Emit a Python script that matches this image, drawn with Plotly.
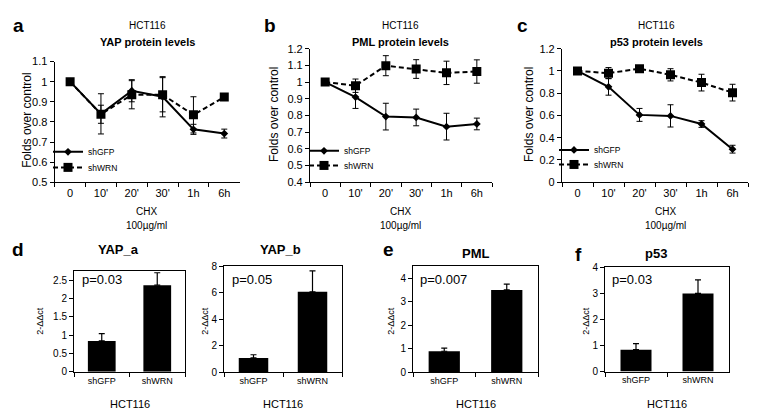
import plotly.graph_objects as go

W, H = 757, 410
FONT = "Liberation Sans, Arial, sans-serif"

# ---------------- data ----------------
time_points = ["0", "10'", "20'", "30'", "1h", "6h"]
series_names = ["shGFP", "shWRN"]

yap_gfp = [1.0, 0.84, 0.955, 0.925, 0.763, 0.742]
yap_gfp_err = [0, 0.10, 0.055, 0.10, 0.025, 0.022]
yap_wrn = [1.0, 0.838, 0.935, 0.935, 0.835, 0.924]
yap_wrn_err = [0, 0.045, 0.07, 0.085, 0.09, 0.0]

pml_gfp = [1.0, 0.91, 0.793, 0.788, 0.733, 0.749]
pml_gfp_err = [0, 0.068, 0.08, 0.05, 0.08, 0.035]
pml_wrn = [1.0, 0.978, 1.098, 1.078, 1.055, 1.063]
pml_wrn_err = [0, 0.04, 0.06, 0.056, 0.07, 0.07]

p53_gfp = [1.0, 0.857, 0.605, 0.596, 0.523, 0.297]
p53_gfp_err = [0, 0.075, 0.058, 0.10, 0.03, 0.035]
p53_wrn = [1.0, 0.98, 1.02, 0.965, 0.895, 0.805]
p53_wrn_err = [0, 0.05, 0.02, 0.055, 0.075, 0.075]

groups = ["shGFP", "shWRN"]
yapa_vals = [0.84, 2.36]
yapa_err = [0.20, 0.34]
yapb_vals = [1.08, 6.08]
yapb_err = [0.24, 1.58]
pml_vals = [0.90, 3.50]
pml_err = [0.13, 0.25]
p53_vals = [0.84, 3.00]
p53_err = [0.23, 0.52]

line_titles = ["YAP protein levels", "PML protein levels", "p53 protein levels"]
bar_titles = ["YAP_a", "YAP_b", "PML", "p53"]
p_values = ["p=0.03", "p=0.05", "p=0.007", "p=0.03"]


def px(x):
    return x / W


def py(y):
    return 1 - y / H


fig = go.Figure()

line_sets = [
    (yap_gfp, yap_gfp_err, yap_wrn, yap_wrn_err),
    (pml_gfp, pml_gfp_err, pml_wrn, pml_wrn_err),
    (p53_gfp, p53_gfp_err, p53_wrn, p53_wrn_err),
]
for i, (g, ge, w, we) in enumerate(line_sets):
    ax = "" if i == 0 else str(i + 1)
    lg1 = "legend" if i == 0 else "legend%d" % (2 * i + 1)
    lg2 = "legend%d" % (2 * i + 2)
    fig.add_trace(go.Scatter(
        x=time_points, y=g, name=series_names[0], mode="lines+markers",
        line=dict(color="black", width=2),
        marker=dict(symbol="diamond", size=6, color="black"),
        error_y=dict(type="data", array=ge, color="black", thickness=1, width=3),
        xaxis="x" + ax, yaxis="y" + ax, legend=lg1))
    fig.add_trace(go.Scatter(
        x=time_points, y=w, name=series_names[1], mode="lines+markers",
        line=dict(color="black", width=2, dash="5px,3px"),
        marker=dict(symbol="square", size=9, color="black"),
        error_y=dict(type="data", array=we, color="black", thickness=1, width=3),
        xaxis="x" + ax, yaxis="y" + ax, legend=lg2))

bar_sets = [(yapa_vals, yapa_err), (yapb_vals, yapb_err), (pml_vals, pml_err), (p53_vals, p53_err)]
for j, (v, e) in enumerate(bar_sets):
    ax = str(j + 4)
    fig.add_trace(go.Bar(
        x=groups, y=v, marker=dict(color="black", line=dict(width=0)),
        error_y=dict(type="data", symmetric=False, array=e, arrayminus=[0] * len(e),
                     color="black", thickness=1.2, width=3),
        xaxis="x" + ax, yaxis="y" + ax, showlegend=False, width=0.5))

# ---------------- axes ----------------
line_dom_x = [(46.7, 231.7), (302, 484), (554, 740)]
line_dom_y = [(49, 173.3), (35.7, 173.3), (35.7, 173.3)]
line_ranges = [(0.5, 1.1), (0.4, 1.2), (0, 1.2)]
line_dticks = [0.1, 0.1, 0.2]

layout = dict(
    width=W, height=H, margin=dict(l=0, r=0, t=0, b=0),
    paper_bgcolor="white", plot_bgcolor="white",
    font=dict(family=FONT, color="black", size=11),
    bargap=0.5,
)

for i in range(3):
    ax = "" if i == 0 else str(i + 1)
    layout["xaxis" + ax] = dict(
        domain=[px(line_dom_x[i][0]), px(line_dom_x[i][1])],
        anchor="y" + ax, type="category", range=[-0.5, 5.5],
        showline=True, linecolor="black", linewidth=1.2,
        ticks="outside", tickson="boundaries", ticklen=4, tickcolor="black",
        tickfont=dict(size=11), showgrid=False, zeroline=False)
    layout["yaxis" + ax] = dict(
        domain=[py(line_dom_y[i][1]), py(line_dom_y[i][0])],
        anchor="x" + ax, range=list(line_ranges[i]), dtick=line_dticks[i],
        showline=True, linecolor="black", linewidth=1.2,
        ticks="outside", ticklen=4, tickcolor="black",
        tickfont=dict(size=11), showgrid=False, zeroline=False)

bar_dom_x = [(66, 177), (216, 334), (405, 530), (597, 721)]
bar_dom_y = [(264.3, 368.5), (260, 369), (260, 369.3), (261, 368.3)]
bar_ranges = [(0, 2.76), (0, 8), (0, 4.5), (0, 4)]
bar_dticks = [0.5, 2, 1, 1]
for j in range(4):
    ax = str(j + 4)
    layout["xaxis" + ax] = dict(
        domain=[px(bar_dom_x[j][0]), px(bar_dom_x[j][1])],
        anchor="y" + ax, type="category", range=[-0.5, 1.5],
        showline=True, mirror=True, linecolor="black", linewidth=1,
        ticks="outside", tickson="boundaries", ticklen=4, tickcolor="black",
        tickfont=dict(size=9), showgrid=False, zeroline=False)
    layout["yaxis" + ax] = dict(
        domain=[py(bar_dom_y[j][1]), py(bar_dom_y[j][0])],
        anchor="x" + ax, range=list(bar_ranges[j]), dtick=bar_dticks[j],
        showline=True, mirror=True, linecolor="black", linewidth=1,
        ticks="outside", ticklen=4, tickcolor="black",
        tickfont=dict(size=10), showgrid=False, zeroline=False)

# legends: one per entry so the spacing can match
leg_x = [40, 296, 546]
leg_y = [(142, 158), (141, 156), (140, 155)]
for i in range(3):
    for k in range(2):
        n = 2 * i + k + 1
        lid = "legend" if n == 1 else "legend%d" % n
        layout[lid] = dict(
            x=px(leg_x[i]), y=py(leg_y[i][k]), xanchor="left", yanchor="middle",
            xref="paper", yref="paper", bgcolor="rgba(0,0,0,0)",
            font=dict(size=8.5, family=FONT), itemwidth=30, itemsizing="trace")

fig.update_layout(**layout)

# ---------------- annotations ----------------
ann = []


def text(x, y, t, size=11, bold=False, angle=0, xanchor="center"):
    ann.append(dict(
        x=px(x), y=py(y), xref="paper", yref="paper", text=("<b>%s</b>" % t) if bold else t,
        showarrow=False, font=dict(size=size, family=FONT, color="black"),
        textangle=angle, xanchor=xanchor, yanchor="middle"))


# panel letters
for (x, y, t) in [(10, 12, "a"), (262, 12, "b"), (514, 12, "c"),
                  (10, 243, "d"), (381, 243, "e"), (570, 248, "f")]:
    text(x, y, t, size=19, bold=True)

# top titles
centers_top = [139, 392, 648]
chx_x = [138, 392, 657]
for i in range(3):
    text(centers_top[i], 12, "HCT116", size=10)
    text(centers_top[i], 29, line_titles[i], size=11, bold=True)
    text(chx_x[i], 203, "CHX", size=10)
    text(chx_x[i], 218, "100µg/ml", size=10)

ytitle_x = [19, 266, 521]
ytitle_y = [110, 104, 104]
for i in range(3):
    text(ytitle_x[i], ytitle_y[i], "Folds over control", size=12, angle=-90)

# bottom titles
bar_title_x = [110, 272, 468, 648]
bar_title_y = [243, 243, 247, 247]
bar_ylab_x = [32, 197, 383, 578]
p_x = [72, 222, 410, 602]
for j in range(4):
    text(bar_title_x[j], bar_title_y[j], bar_titles[j], size=13, bold=True)
    cx = (bar_dom_x[j][0] + bar_dom_x[j][1]) / 2
    text(cx, 402, "HCT116", size=11)
    text(bar_ylab_x[j], 316, "2-ΔΔct", size=9, angle=-90)
    text(p_x[j], 274, p_values[j], size=13, xanchor="left")

fig.update_layout(annotations=ann)
fig.write_html("out.html")
